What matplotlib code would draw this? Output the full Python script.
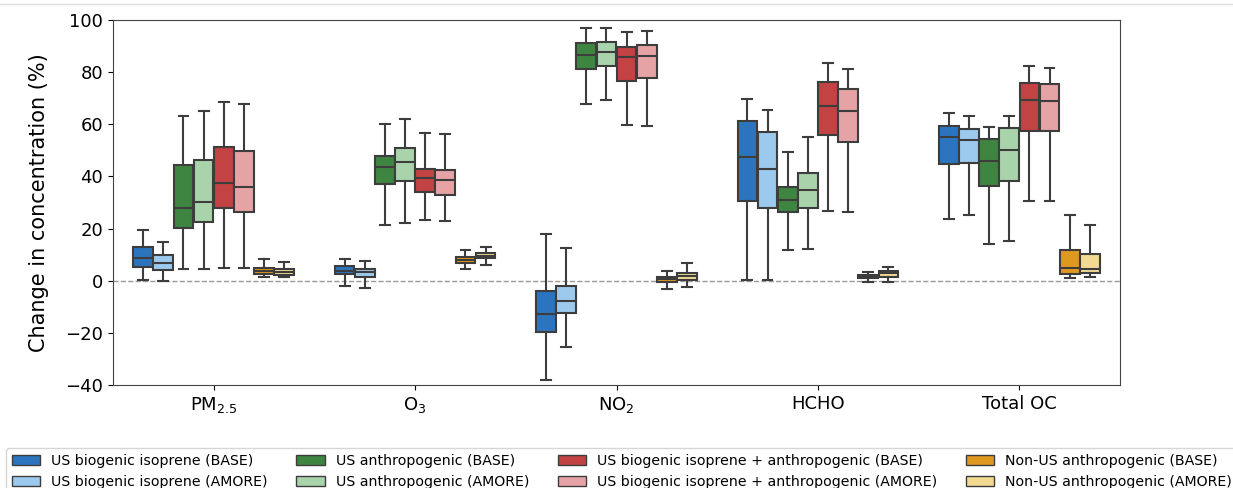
import matplotlib
matplotlib.use("Agg")
import matplotlib.pyplot as plt
import matplotlib.patches as mpatches

species = ["PM$_{2.5}$", "O$_3$", "NO$_2$", "HCHO", "Total OC"]
scenarios = ["US biogenic isoprene (BASE)", "US biogenic isoprene (AMORE)",
             "US anthropogenic (BASE)", "US anthropogenic (AMORE)",
             "US biogenic isoprene + anthropogenic (BASE)", "US biogenic isoprene + anthropogenic (AMORE)",
             "Non-US anthropogenic (BASE)", "Non-US anthropogenic (AMORE)"]
colors = ["#2c75be", "#9ccaee", "#3f8542", "#a9d3ab", "#c34244", "#e6a3a5", "#e0991f", "#f2da93"]

# box summaries per species: [whislo, q1, med, q3, whishi] for each scenario
pm25 = [[0.3, 5.1, 8.6, 12.8, 19.4], [0.0, 4.1, 6.9, 9.9, 15.0],
        [4.4, 20.3, 28.0, 44.4, 63.3], [4.4, 22.5, 30.1, 46.3, 65.1],
        [4.9, 27.9, 37.6, 51.4, 68.7], [4.9, 26.5, 35.8, 49.9, 67.9],
        [1.3, 2.5, 3.8, 5.0, 8.4], [1.3, 2.2, 3.5, 4.5, 7.3]]
o3 = [[-2.0, 2.5, 3.8, 5.8, 8.4], [-2.9, 1.5, 3.2, 4.6, 7.4],
      [21.4, 37.1, 43.7, 48.0, 60.1], [22.1, 38.4, 45.6, 51.0, 62.0],
      [23.2, 33.9, 39.5, 42.7, 56.5], [22.9, 33.0, 38.6, 42.5, 56.4],
      [4.5, 6.7, 7.9, 9.0, 11.8], [5.9, 8.6, 9.6, 10.5, 12.9]]
no2 = [[-38.1, -19.8, -12.8, -3.8, 17.8], [-25.4, -12.5, -7.8, -1.9, 12.7],
       [67.8, 81.1, 86.6, 91.1, 96.8], [69.3, 82.4, 87.6, 91.4, 97.0],
       [59.6, 76.7, 85.9, 89.6, 95.5], [59.3, 77.6, 86.3, 90.3, 95.8],
       [-3.1, -0.5, 0.5, 1.3, 3.7], [-2.4, 0.3, 1.8, 2.8, 6.7]]
hcho = [[0.3, 30.6, 47.6, 61.3, 69.7], [0.3, 28.0, 42.8, 57.0, 65.5],
        [11.9, 26.2, 30.8, 36.1, 49.5], [12.2, 27.9, 34.7, 41.2, 55.0],
        [26.6, 55.9, 67.0, 76.1, 83.4], [26.5, 53.1, 65.0, 73.5, 81.2],
        [-0.4, 0.9, 1.5, 2.1, 3.2], [-0.4, 1.5, 2.8, 3.8, 5.1]]
total_oc = [[23.5, 44.8, 55.0, 59.3, 64.5], [25.2, 45.0, 54.0, 58.3, 63.2],
            [14.2, 36.2, 46.0, 54.5, 59.1], [15.1, 38.2, 50.3, 58.7, 63.2],
            [30.7, 57.3, 69.3, 75.8, 82.4], [30.7, 57.3, 69.0, 75.5, 81.5],
            [1.2, 2.5, 4.8, 11.8, 25.2], [1.4, 2.8, 4.6, 10.2, 21.5]]
all_data = [pm25, o3, no2, hcho, total_oc]

edge = "#3d3d3d"
fig = plt.figure(figsize=(12.33, 4.88), dpi=100)
ax = fig.add_axes([113/1233, 1 - 385/488, (1120-113)/1233, (385-20)/488])

n = len(scenarios)
w = 0.8 / n
for i, sp in enumerate(all_data):
    for j, (lo, q1, med, q3, hi) in enumerate(sp):
        st = [dict(whislo=lo, q1=q1, med=med, q3=q3, whishi=hi, fliers=[])]
        pos = i + (j - (n - 1) / 2) * w
        ax.bxp(st, positions=[pos], widths=[w * 0.98], patch_artist=True, showfliers=False,
               boxprops=dict(facecolor=colors[j], edgecolor=edge, linewidth=1.5),
               medianprops=dict(color=edge, linewidth=1.5),
               whiskerprops=dict(color=edge, linewidth=1.5),
               capprops=dict(color=edge, linewidth=1.5), manage_ticks=False)

ax.axhline(0, color="#999999", linestyle="--", linewidth=1, zorder=0)
ax.set_xlim(-0.5, len(species) - 0.5)
ax.set_ylim(-40, 100)
ax.set_xticks(range(len(species)))
ax.set_xticklabels(species, fontsize=13)
ax.tick_params(axis="y", labelsize=13)
ax.set_ylabel("Change in concentration (%)", fontsize=15, labelpad=12)
for s in ax.spines.values():
    s.set_color("#444444")

handles = [mpatches.Patch(facecolor=c, edgecolor=edge, linewidth=1, label=l) for c, l in zip(colors, scenarios)]
fig.legend(handles=handles, ncol=4, loc="upper left", bbox_to_anchor=(6/1233, 1 - 448/488),
           fontsize=10.2, frameon=True, borderaxespad=0)

fig.add_artist(plt.Line2D([0, 1], [1 - 4/488, 1 - 4/488], color="#dddddd", linewidth=1))
fig.savefig("out.png", dpi=100)
